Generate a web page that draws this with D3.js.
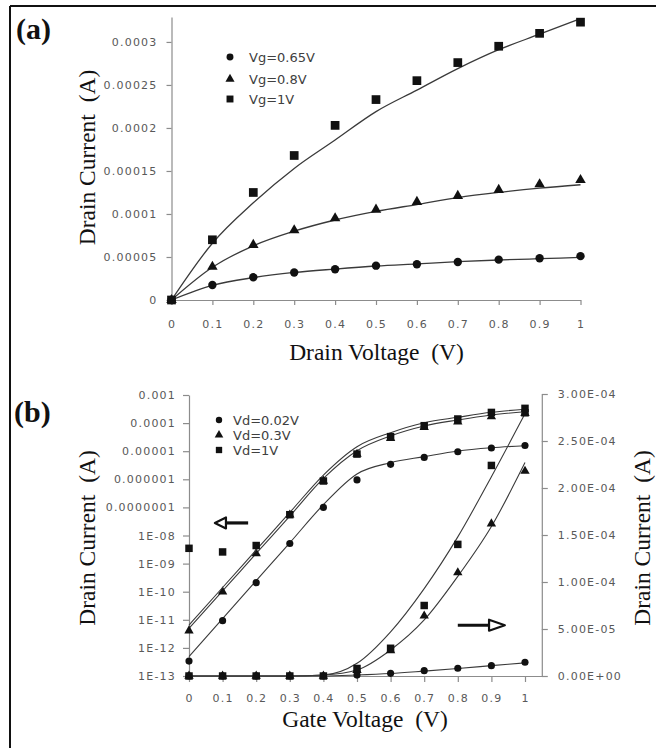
<!DOCTYPE html>
<html><head><meta charset="utf-8">
<script src="https://cdn.jsdelivr.net/npm/d3@7"></script>
<style>
body{margin:0;background:#fff}
svg{display:block}
.tick text{font-family:"DejaVu Sans",sans-serif;font-size:11px;fill:#595959;letter-spacing:1.2px}
.ttl{font-family:"Liberation Serif","Times New Roman",serif;font-size:23.5px;fill:#111;white-space:pre}
.lab{font-family:"Liberation Serif","Times New Roman",serif;font-size:30px;font-weight:bold;fill:#111}
.leg{font-family:"DejaVu Sans",sans-serif;font-size:13px;fill:#404040}
</style></head>
<body><svg id="c" width="656" height="748"></svg>
<script>
// ---------- Panel (a) data ----------
const aX = [0,0.1,0.2,0.3,0.4,0.5,0.6,0.7,0.8,0.9,1];
const aNames = ["Vg=0.65V","Vg=0.8V","Vg=1V"];
const aVg065 = [0,1.74e-5,2.64e-5,3.2e-5,3.57e-5,3.99e-5,4.15e-5,4.42e-5,4.69e-5,4.85e-5,5.1e-5];
const aVg065Fit = [0,1.7e-5,2.6e-5,3.2e-5,3.6e-5,3.95e-5,4.2e-5,4.45e-5,4.65e-5,4.8e-5,4.95e-5];
const aVg08 = [0,3.87e-5,6.4e-5,8.1e-5,9.5e-5,10.5e-5,11.4e-5,12.1e-5,12.8e-5,13.45e-5,13.95e-5];
const aVg08Fit = [0,3.8e-5,6.3e-5,8.0e-5,9.3e-5,10.3e-5,11.1e-5,11.9e-5,12.5e-5,13.0e-5,13.4e-5];
const aVg1 = [0,7.0e-5,12.5e-5,16.8e-5,20.3e-5,23.3e-5,25.5e-5,27.6e-5,29.5e-5,31.0e-5,32.3e-5];
const aVg1Fit = [0,6.6e-5,11.3e-5,15.3e-5,18.6e-5,21.9e-5,24.4e-5,26.9e-5,29.1e-5,30.9e-5,32.7e-5];
const aXTicks = [0,0.1,0.2,0.3,0.4,0.5,0.6,0.7,0.8,0.9,1];
const aXTickLabels = ["0","0.1","0.2","0.3","0.4","0.5","0.6","0.7","0.8","0.9","1"];
const aYTicks = [0,0.00005,0.0001,0.00015,0.0002,0.00025,0.0003];
const aYTickLabels = ["0","0.00005","0.0001","0.00015","0.0002","0.00025","0.0003"];

// ---------- Panel (b) data ----------
const bX = [0,0.1,0.2,0.3,0.4,0.5,0.6,0.7,0.8,0.9,1];
const bNames = ["Vd=0.02V","Vd=0.3V","Vd=1V"];
// log (left axis)
const bLogVd002 = [3.4e-13,9.3e-12,2.1e-10,5.2e-9,1.0e-7,9.5e-7,3.4e-6,6.0e-6,9.6e-6,1.3e-5,1.6e-5];
const bLogVd002Fit = [4.9e-13,1.1e-11,2.46e-10,5.5e-9,1.25e-7,1.55e-6,3.9e-6,6.4e-6,1.02e-5,1.33e-5,1.57e-5];
const bLogVd03 = [4.1e-12,1.0e-10,2.3e-9,5.4e-8,8.7e-7,7.9e-6,2.9e-5,7.1e-5,1.12e-4,1.7e-4,2.24e-4];
const bLogVd03Fit = [5.0e-12,1.06e-10,2.29e-9,4.9e-8,1.07e-6,1.04e-5,3.5e-5,7.9e-5,1.29e-4,1.94e-4,2.55e-4];
const bLogVd1 = [3.5e-9,2.6e-9,4.4e-9,5.5e-8,8.7e-7,7.9e-6,3.3e-5,8.1e-5,1.4e-4,2.4e-4,3.35e-4];
const bLogVd1Fit = [6.5e-12,1.41e-10,3.05e-9,6.6e-8,1.42e-6,1.45e-5,4.55e-5,1.03e-4,1.61e-4,2.42e-4,3.1e-4];
// linear (right axis)
const bLinVd002 = [0,0,0,0,0,1e-6,2.8e-6,5.7e-6,8.2e-6,1.1e-5,1.46e-5];
const bLinVd002Fit = [0,0,0,0,0,1e-6,2.6e-6,5.2e-6,8e-6,1.1e-5,1.4e-5];
const bLinVd03 = [0,0,0,0,0,6e-6,2.7e-5,6.4e-5,1.10e-4,1.62e-4,2.18e-4];
const bLinVd03Fit = [0,0,0,0,1e-6,6.4e-6,2.77e-5,5.96e-5,1.06e-4,1.59e-4,2.27e-4];
const bLinVd1 = [0,0,0,0,0,8e-6,2.95e-5,7.5e-5,1.40e-4,2.24e-4,2.8e-4];
const bLinVd1Fit = [0,0,0,0,1e-6,1.35e-5,4.7e-5,9.3e-5,1.48e-4,2.12e-4,2.79e-4];
const bXTicks = [0,0.1,0.2,0.3,0.4,0.5,0.6,0.7,0.8,0.9,1];
const bXTickLabels = ["0","0.1","0.2","0.3","0.4","0.5","0.6","0.7","0.8","0.9","1"];
const bLTicks = [1e-13,1e-12,1e-11,1e-10,1e-9,1e-8,1e-7,1e-6,1e-5,1e-4,1e-3];
const bLTickLabels = ["1E-13","1E-12","1E-11","1E-10","1E-09","1E-08","0.0000001","0.000001","0.00001","0.0001","0.001"];
const bRTicks = [0,5e-5,1e-4,1.5e-4,2e-4,2.5e-4,3e-4];
const bRTickLabels = ["0.00E+00","5.00E-05","1.00E-04","1.50E-04","2.00E-04","2.50E-04","3.00E-04"];
// arrow annotations (data coords)
const leftArrow = {x0:0.077, xHead:0.11, x1:0.176, y:2.8e-8};
const rightArrow = {x0:0.80, xHead:0.893, x1:0.94, y:5.4e-5};

const svg = d3.select("#c");
const ink = "#111";
const lineCol = "#3a3a3a";
const axCol = "#8c8c8c";

// frame
svg.append("line").attr("x1",10).attr("y1",6).attr("x2",656).attr("y2",6).attr("stroke",ink).attr("stroke-width",2);
svg.append("line").attr("x1",10).attr("y1",6).attr("x2",10).attr("y2",748).attr("stroke",ink).attr("stroke-width",2);

function styleAxis(g){
  g.select(".domain").attr("stroke",axCol).attr("stroke-width",1.2);
  g.selectAll(".tick line").attr("stroke",axCol).attr("stroke-width",1.2);
}
function sym(type,size){ return d3.symbol().type(type).size(size)(); }
function drawSeries(g, xs, ys, fit, xS, yS, type, size, lw){
  const line = d3.line().x((d,i)=>xS(xs[i])).y(d=>yS(d)).curve(d3.curveMonotoneX);
  g.append("path").attr("d",line(fit)).attr("fill","none").attr("stroke",lineCol).attr("stroke-width",lw);
  g.selectAll(null).data(ys).enter().append("path")
    .attr("d",sym(type,size))
    .attr("transform",(d,i)=>`translate(${xS(xs[i])},${yS(d)})`)
    .attr("fill",ink);
}

// ================= Panel (a) =================
const ax = d3.scaleLinear().domain([0,1]).range([171.5,580.5]);
const ay = d3.scaleLinear().domain([0,0.000329]).range([300,17]);
const gA = svg.append("g");
gA.append("g").attr("transform",`translate(0,${ay(0)})`)
  .call(d3.axisBottom(ax).tickValues(aXTicks).tickFormat((d,i)=>aXTickLabels[i]).tickSize(5).tickSizeOuter(0).tickPadding(15))
  .call(styleAxis);
gA.append("g").attr("transform",`translate(${ax(0)},0)`)
  .call(d3.axisLeft(ay).tickValues(aYTicks).tickFormat((d,i)=>aYTickLabels[i]).tickSize(5).tickSizeOuter(0).tickPadding(9))
  .call(styleAxis);

drawSeries(gA, aX, aVg065, aVg065Fit, ax, ay, d3.symbolCircle, 55, 1.3);
drawSeries(gA, aX, aVg08, aVg08Fit, ax, ay, d3.symbolTriangle, 48, 1.3);
drawSeries(gA, aX, aVg1, aVg1Fit, ax, ay, d3.symbolSquare, 76, 1.3);

// legend a
const aLegTypes = [d3.symbolCircle,d3.symbolTriangle,d3.symbolSquare];
const aLegSizes = [38,36,48];
const aLegY = [57,79,99];
aNames.forEach((n,i)=>{
  gA.append("path").attr("d",sym(aLegTypes[i],aLegSizes[i])).attr("transform",`translate(230,${aLegY[i]})`).attr("fill",ink);
  gA.append("text").attr("class","leg").attr("x",249).attr("y",aLegY[i]).attr("dy","0.37em").text(n);
});

gA.append("text").attr("class","ttl").attr("x",376.5).attr("y",360).attr("text-anchor","middle").text("Drain Voltage  (V)");
gA.append("text").attr("class","ttl").attr("text-anchor","middle")
  .attr("transform","translate(95,157.5) rotate(-90)").text("Drain Current  (A)");
gA.append("text").attr("class","lab").attr("x",16).attr("y",39).text("(a)");

// ================= Panel (b) =================
const bx = d3.scaleLinear().domain([0,1.05]).range([189,541.8]);
const byL = d3.scaleLog().domain([1e-13,1e-3]).range([676,395]);
const byR = d3.scaleLinear().domain([0,3e-4]).range([676,394]);
const gB = svg.append("g");
gB.append("g").attr("transform",`translate(0,676)`)
  .call(d3.axisBottom(bx).tickValues(bXTicks).tickFormat((d,i)=>bXTickLabels[i]).tickSize(6).tickSizeOuter(0).tickPadding(12))
  .call(styleAxis);
gB.append("g").attr("transform",`translate(${bx(0)},0)`)
  .call(d3.axisLeft(byL).tickValues(bLTicks).tickFormat((d,i)=>bLTickLabels[i]).tickSize(6).tickSizeOuter(0).tickPadding(7))
  .call(styleAxis);
gB.append("g").attr("transform",`translate(${bx(1.05)},0)`)
  .call(d3.axisRight(byR).tickValues(bRTicks).tickFormat((d,i)=>bRTickLabels[i]).tickSize(6).tickSizeOuter(0).tickPadding(10))
  .call(styleAxis);

// linear curves (right axis)
drawSeries(gB, bX, bLinVd002, bLinVd002Fit, bx, byR, d3.symbolCircle, 40, 1.1);
drawSeries(gB, bX, bLinVd03, bLinVd03Fit, bx, byR, d3.symbolTriangle, 38, 1.1);
drawSeries(gB, bX, bLinVd1, bLinVd1Fit, bx, byR, d3.symbolSquare, 56, 1.1);
// log curves (left axis)
drawSeries(gB, bX, bLogVd002, bLogVd002Fit, bx, byL, d3.symbolCircle, 40, 1.1);
drawSeries(gB, bX, bLogVd03, bLogVd03Fit, bx, byL, d3.symbolTriangle, 38, 1.1);
drawSeries(gB, bX, bLogVd1, bLogVd1Fit, bx, byL, d3.symbolSquare, 56, 1.1);

// legend b
const bLegY = [420,435,450];
bNames.forEach((n,i)=>{
  gB.append("path").attr("d",sym(aLegTypes[i],[32,32,40][i])).attr("transform",`translate(219,${bLegY[i]})`).attr("fill",ink);
  gB.append("text").attr("class","leg").attr("x",233).attr("y",bLegY[i]).attr("dy","0.37em").text(n);
});

// arrows
function arrow(a, yS, dir){
  const y = yS(a.y);
  const x0 = bx(a.x0), xh = bx(a.xHead), x1 = bx(a.x1);
  if(dir<0){ // head at left (x0 tip)
    gB.append("line").attr("x1",xh).attr("x2",x1).attr("y1",y).attr("y2",y).attr("stroke",ink).attr("stroke-width",3.2);
    gB.append("path").attr("d",`M${x0},${y}L${xh},${y-5.5}L${xh},${y+5.5}Z`).attr("fill","#fff").attr("stroke",ink).attr("stroke-width",2.2).attr("stroke-linejoin","round");
  } else { // head at right (x1 tip)
    gB.append("line").attr("x1",x0).attr("x2",xh).attr("y1",y).attr("y2",y).attr("stroke",ink).attr("stroke-width",3.2);
    gB.append("path").attr("d",`M${x1},${y}L${xh},${y-5.5}L${xh},${y+5.5}Z`).attr("fill","#fff").attr("stroke",ink).attr("stroke-width",2.2).attr("stroke-linejoin","round");
  }
}
arrow(leftArrow, byL, -1);
arrow(rightArrow, byR, 1);

gB.append("text").attr("class","ttl").attr("x",365).attr("y",727).attr("text-anchor","middle").text("Gate Voltage  (V)");
gB.append("text").attr("class","ttl").attr("text-anchor","middle")
  .attr("transform","translate(95,538) rotate(-90)").text("Drain Current  (A)");
gB.append("text").attr("class","ttl").attr("text-anchor","middle")
  .attr("transform","translate(650,538) rotate(-90)").text("Drain Current  (A)");
gB.append("text").attr("class","lab").attr("x",14).attr("y",422).text("(b)");
</script>
</body></html>
